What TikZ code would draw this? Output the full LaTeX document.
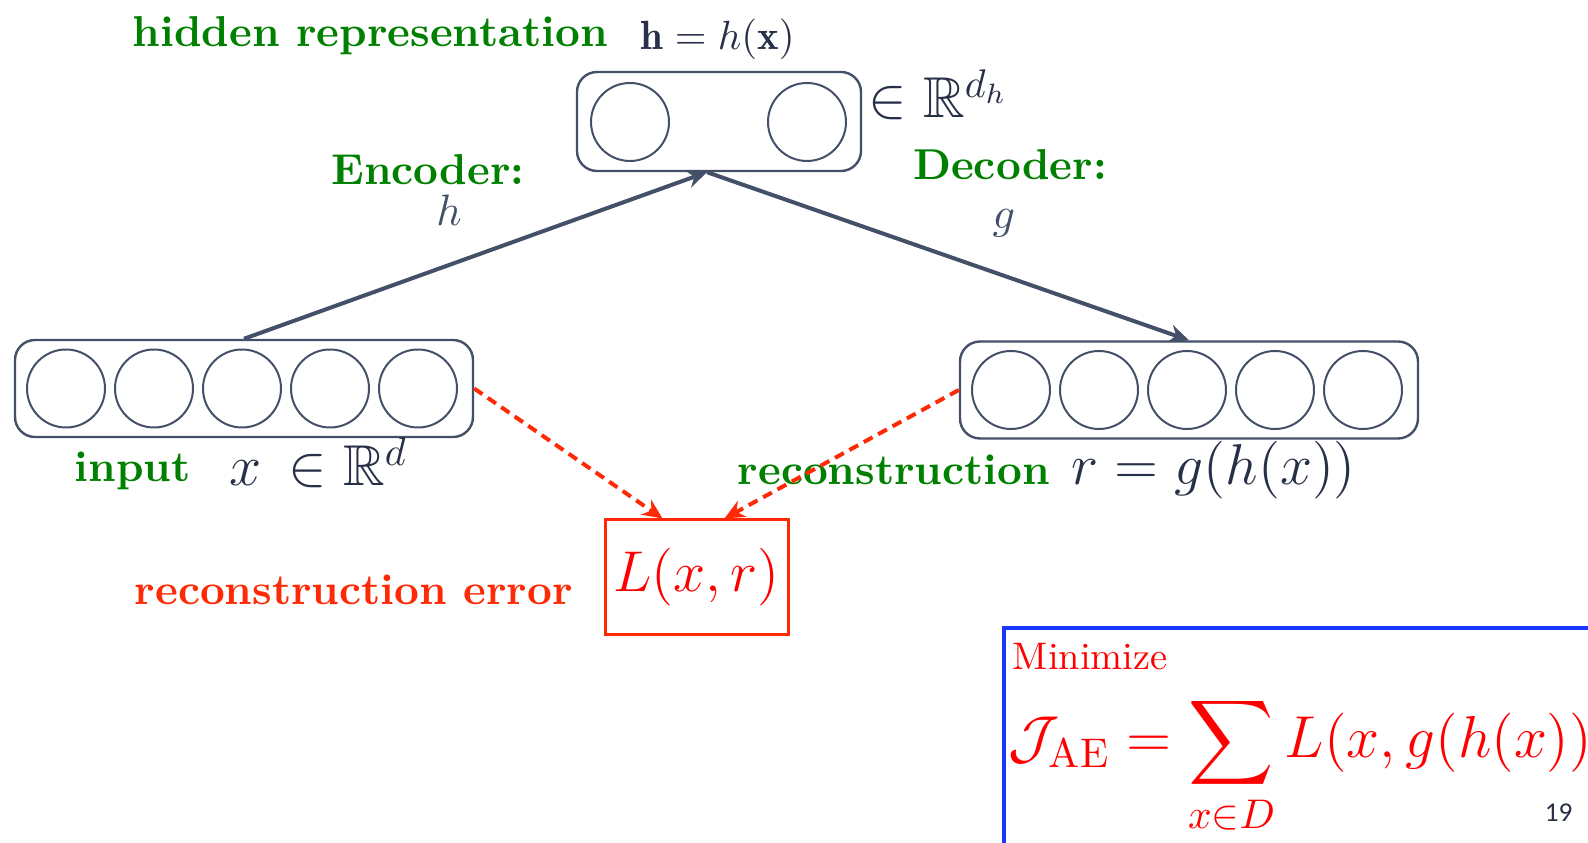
\RequirePackage{fix-cm}
\documentclass[tikz,border=0pt]{standalone}
\usepackage{amsmath,amssymb}
\usepackage{fontspec}
\usepackage{tikz}
\usetikzlibrary{arrows.meta,positioning,calc}
\newfontfamily\pagefont{Carlito}

\definecolor{lblgreen}{RGB}{0,128,0}
\definecolor{errred}{RGB}{255,42,5}
\definecolor{netgray}{RGB}{68,80,104}
\definecolor{mathnavy}{RGB}{40,48,72}
\definecolor{boxblue}{RGB}{25,55,255}

\tikzset{
  layer/.style={draw=netgray,line width=0.6pt,rounded corners=5pt,minimum height=24.25pt,inner sep=0pt},
  unit/.style={circle,draw=netgray,line width=0.5pt,minimum size=19.5pt,inner sep=0pt},
  lbl/.style={text=lblgreen,inner sep=0pt,font=\fontsize{10.8}{13}\selectfont\bfseries},
  mth/.style={text=mathnavy,inner sep=0pt,font=\fontsize{14.4}{17}\selectfont},
  wgt/.style={->,draw=netgray,line width=1pt},
  errarrow/.style={->,draw=errred,line width=1pt,dash pattern=on 2.5pt off 1.6pt}
}

\begin{document}
\begin{tikzpicture}[x=0.25pt,y=-0.25pt,>={Stealth[length=5pt,width=4.5pt]}]
\useasboundingbox (0,0) rectangle (1588,843);
\clip (0,0) rectangle (1588,843);

% --- Layers
\node[layer,minimum width=71pt,minimum height=24.75pt] (hid) at (719,121.5) {};
\node[layer,minimum width=114.5pt] (in) at (244,388.5) {};
\node[layer,minimum width=114.5pt] (out) at (1189,390) {};

% --- Units
\node[unit] (hid-0) at (630,122) {};
\node[unit] (hid-1) at (807,122) {};
\foreach \i in {0,...,4}{
  \node[unit] (in-\i) at (66+88*\i,388.5) {};
  \node[unit] (out-\i) at (1011+88*\i,390) {};
}

% --- Encoder / decoder
\coordinate (hidin) at ([xshift=-3pt]hid.south);
\draw[wgt] (in.north) -- (hidin);
\draw[wgt] (hidin) -- (out.north);

\node[lbl,anchor=base] (enc) at (428,185) {Encoder:};
\node[mth,anchor=base,text=netgray,font=\fontsize{11}{13}\selectfont] (enc-f) at (449,226) {$h$};
\node[lbl,anchor=base] (dec) at (1010,180) {Decoder:};
\node[mth,anchor=base,text=netgray,font=\fontsize{11}{13}\selectfont] (dec-f) at (1004,229) {$g$};

% --- Labels of the layers
\node[lbl,anchor=base west] (hid-lbl) at (132,47) {hidden representation};
\node[mth,anchor=base west,font=\fontsize{10.2}{12}\selectfont] (hid-eq) at (640,50) {$\mathbf{h} = h(\mathbf{x})$};
\node[mth,anchor=base west] (hid-dim) at (868,118) {$\in \mathbb{R}^{d_h}$};

\node[lbl,anchor=base west] (in-lbl) at (74,482) {input};
\node[mth,anchor=base west] (in-x) at (229,486) {$x$};
\node[mth,anchor=base west] (in-dim) at (288,486) {$\in \mathbb{R}^{d}$};

\node[lbl,anchor=base west] (out-lbl) at (737,485) {reconstruction};
\node[mth,anchor=base west] (out-eq) at (1071,485) {$r = g(h(x))$};

% --- Reconstruction error
\node[draw=errred,line width=0.75pt,minimum width=45.75pt,minimum height=28.75pt,inner sep=0pt,
      text=red,font=\fontsize{14.4}{17}\selectfont] (err) at (696.5,577.5) {$L(x,r)$};
\node[lbl,anchor=base west,text=errred] (err-lbl) at (134,605) {reconstruction error};

\draw[errarrow] (in.east) -- ([xshift=-8.5pt]err.north);
\draw[errarrow] (out.west) -- ([xshift=7pt]err.north);

% --- Objective
\draw[boxblue,line width=1pt] (1004,628) rectangle (1650,900);
\node[anchor=base west,inner sep=0pt,text=red,font=\fontsize{9.6}{11}\selectfont] (min) at (1012,670) {Minimize};
\node[anchor=base west,inner sep=0pt,text=red,font=\fontsize{14.8}{18}\selectfont] (obj) at (1008,758)
  {$\displaystyle \mathcal{J}_{\mathrm{AE}} = \sum_{x\in D} L(x,g(h(x)))$};
\node[anchor=base west,inner sep=0pt,text=mathnavy,font=\pagefont\fontsize{6.8}{8}\selectfont] (page) at (1544,822) {19};

\end{tikzpicture}
\end{document}
